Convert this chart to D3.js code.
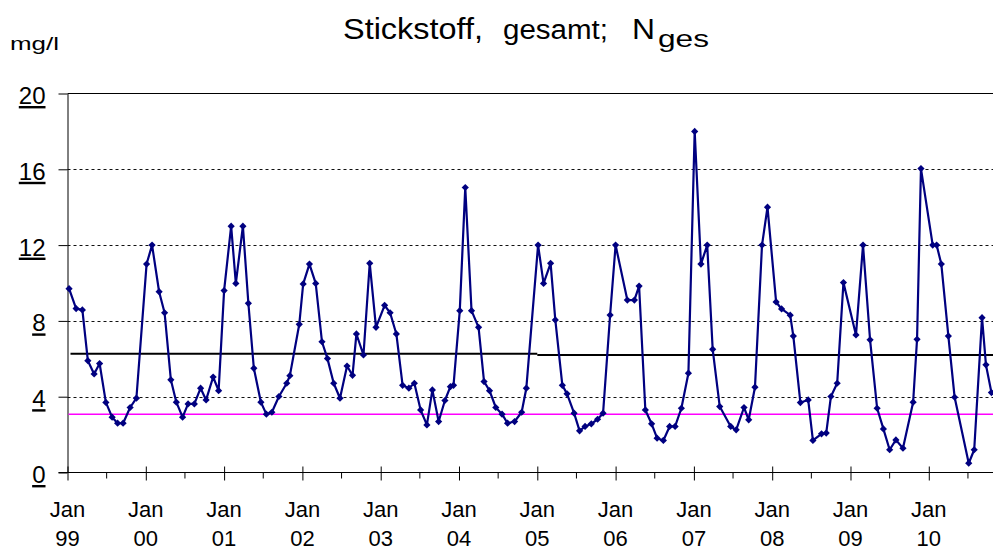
<!DOCTYPE html>
<html>
<head>
<meta charset="utf-8">
<script src="https://cdn.jsdelivr.net/npm/d3@7"></script>
<style>
    body { margin: 0; background: #fff; }
    svg { display: block; font-family: Arial, "Liberation Sans", sans-serif; }
</style>
</head>
<body>
<svg id="chart" width="993" height="552"></svg>
<script>
// Messzeitpunkte (als Dezimaljahr) und Messwerte N ges in mg/l
let zeitpunkte = [
    1999.02, 1999.11, 1999.19, 1999.26, 1999.34, 1999.41, 1999.49, 1999.57, 1999.64, 1999.71, 1999.80, 1999.88,
    2000.01, 2000.08, 2000.17, 2000.24, 2000.32, 2000.39, 2000.47, 2000.54, 2000.62, 2000.70, 2000.77, 2000.86, 2000.93,
    2001.00, 2001.09, 2001.15, 2001.24, 2001.31, 2001.38, 2001.47, 2001.54, 2001.61, 2001.70, 2001.80, 2001.84, 2001.96,
    2002.01, 2002.09, 2002.17, 2002.25, 2002.32, 2002.40, 2002.48, 2002.57, 2002.64, 2002.69, 2002.78, 2002.86, 2002.94,
    2003.05, 2003.12, 2003.20, 2003.28, 2003.36, 2003.43, 2003.51, 2003.59, 2003.66, 2003.74, 2003.82, 2003.89, 2003.93,
    2004.01, 2004.08, 2004.16, 2004.25, 2004.32, 2004.39, 2004.47, 2004.55, 2004.62, 2004.71, 2004.80, 2004.86,
    2005.01, 2005.08, 2005.17, 2005.23, 2005.32, 2005.38, 2005.47, 2005.54, 2005.61, 2005.69, 2005.77, 2005.84, 2005.93,
    2006.00, 2006.15, 2006.24, 2006.30, 2006.38, 2006.46, 2006.53, 2006.61, 2006.69, 2006.76, 2006.84, 2006.93,
    2007.01, 2007.09, 2007.17, 2007.24, 2007.33, 2007.47, 2007.54, 2007.64, 2007.70, 2007.78, 2007.87, 2007.94,
    2008.05, 2008.12, 2008.23, 2008.27, 2008.36, 2008.46, 2008.52, 2008.63, 2008.69, 2008.75, 2008.83, 2008.91,
    2009.07, 2009.16, 2009.25, 2009.34, 2009.42, 2009.50, 2009.58, 2009.67, 2009.80, 2009.85, 2009.90,
    2010.05, 2010.10, 2010.16, 2010.25, 2010.33, 2010.51, 2010.58, 2010.68, 2010.73, 2010.80
];
let nGes = [
    9.7, 8.65, 8.58, 5.9, 5.2, 5.75, 3.7, 2.92, 2.6, 2.6, 3.43, 3.92,
    11.0, 12.0, 9.54, 8.43, 4.89, 3.71, 2.92, 3.62, 3.62, 4.45, 3.83, 5.04, 4.32,
    9.6, 13.0, 9.98, 13.0, 8.93, 5.5, 3.71, 3.08, 3.18, 4.01, 4.71, 5.11, 7.82,
    9.95, 11.0, 9.98, 6.9, 6.01, 4.71, 3.92, 5.62, 5.13, 7.31, 6.2, 11.04, 7.66,
    8.82, 8.43, 7.31, 4.6, 4.45, 4.71, 3.3, 2.51, 4.36, 2.69, 3.8, 4.53, 4.6,
    8.54, 15.04, 8.54, 7.66, 4.8, 4.32, 3.43, 3.08, 2.6, 2.69, 3.18, 4.45,
    12.0, 9.98, 11.04, 8.05, 4.6, 4.15, 3.13, 2.2, 2.43, 2.57, 2.81, 3.13, 8.31,
    12.0, 9.1, 9.1, 9.84, 3.3, 2.57, 1.81, 1.69, 2.43, 2.43, 3.39, 5.24,
    18.0, 11.0, 12.0, 6.5, 3.48, 2.43, 2.25, 3.43, 2.78, 4.5, 12.0, 14.0,
    9.0, 8.63, 8.3, 7.2, 3.69, 3.83, 1.69, 2.04, 2.08, 4.01, 4.71, 10.02,
    7.26, 12.0, 7.0, 3.39, 2.3, 1.2, 1.72, 1.28, 3.71, 7.03, 16.04,
    12.0, 12.0, 11.0, 7.2, 3.97, 0.49, 1.2, 8.17, 5.68, 4.22
];

let jahre = [1999, 2000, 2001, 2002, 2003, 2004, 2005, 2006, 2007, 2008, 2009, 2010];
let jahrLabels = ["99", "00", "01", "02", "03", "04", "05", "06", "07", "08", "09", "10"];
let yTicks = [0, 4, 8, 12, 16, 20];
let gitterWerte = [4, 8, 12, 16];

// Mittelwert (schwarze Linie) in zwei Abschnitten, Zielwert (magenta)
let mittelVon = [1999, 2005.0];
let mittelBis = [2005.0, 2010.82];
let mittelWert = [6.27, 6.2];
let zielwert = 3.08;

let svg = d3.select("#chart");
let links = 67.5, rechts = 993, oben = 93.5, unten = 472.5;

let x = d3.scaleLinear().domain([1999, 2010.82]).range([links, rechts]);
let y = d3.scaleLinear().domain([0, 20]).range([unten, oben]);

// Titel (Schrift im Original leicht in die Breite gezogen)
let titel = svg.append("text").attr("y", 39).attr("fill", "black").attr("lengthAdjust", "spacingAndGlyphs");
titel.append("tspan").attr("x", 343).attr("font-size", "29px")
    .attr("textLength", 140).attr("lengthAdjust", "spacingAndGlyphs").text("Stickstoff,");
titel.append("tspan").attr("x", 503).attr("font-size", "27px")
    .attr("textLength", 105).attr("lengthAdjust", "spacingAndGlyphs").text("gesamt;");
titel.append("tspan").attr("x", 632).attr("font-size", "29px")
    .attr("textLength", 23).attr("lengthAdjust", "spacingAndGlyphs").text("N");
titel.append("tspan").attr("x", 658).attr("dy", 8).attr("font-size", "24px")
    .attr("textLength", 51).attr("lengthAdjust", "spacingAndGlyphs").text("ges");

svg.append("text")
    .attr("x", 10).attr("y", 50)
    .attr("font-size", "19px")
    .attr("textLength", 49)
    .attr("lengthAdjust", "spacingAndGlyphs")
    .text("mg/l");

// Gitterlinien
svg.selectAll(".gitter")
    .data(gitterWerte)
    .join("line")
    .attr("class", "gitter")
    .attr("x1", links).attr("x2", rechts)
    .attr("y1", d => Math.round(y(d)) + 0.5).attr("y2", d => Math.round(y(d)) + 0.5)
    .attr("stroke", "#111")
    .attr("stroke-width", 1)
    .attr("stroke-dasharray", "3,3");

// Rahmen oben
svg.append("line")
    .attr("x1", links).attr("x2", rechts)
    .attr("y1", oben).attr("y2", oben)
    .attr("stroke", "black").attr("stroke-width", 1);

// y-Achse
let yAchse = svg.append("g")
    .attr("transform", `translate(${links},0)`)
    .call(d3.axisLeft(y).tickValues(yTicks).tickSize(9).tickSizeOuter(0));
yAchse.select(".domain").attr("stroke", "black");
yAchse.selectAll(".tick line").attr("stroke", "black");
yAchse.selectAll("text")
    .attr("x", -22)
    .attr("dy", null)
    .attr("y", 10)
    .attr("font-size", "24px")
    .attr("font-family", null)
    .attr("fill", "black")
    .style("text-decoration", "underline");

// x-Achse
let xAchse = svg.append("g")
    .attr("transform", `translate(0,${unten})`)
    .call(d3.axisBottom(x).tickValues(jahre).tickSize(8).tickSizeOuter(0).tickFormat(""));
xAchse.select(".domain").attr("d", `M${links - 9},0H${rechts}`).attr("stroke", "black");
xAchse.selectAll(".tick line").attr("y1", -6).attr("y2", 8).attr("stroke", "black");

// Zwischenstriche (Juli)
xAchse.selectAll(".halb")
    .data(jahre)
    .join("line")
    .attr("class", "halb")
    .attr("x1", d => x(d + 0.5)).attr("x2", d => x(d + 0.5))
    .attr("y1", 0).attr("y2", 6)
    .attr("stroke", "black");

let xLabel = svg.selectAll(".xlabel")
    .data(jahre)
    .join("text")
    .attr("class", "xlabel")
    .attr("text-anchor", "middle")
    .attr("font-size", "22px")
    .attr("fill", "black");
xLabel.append("tspan").attr("x", d => x(d)).attr("y", 517).text("Jan");
xLabel.append("tspan").attr("x", d => x(d)).attr("y", 546).text((d, i) => jahrLabels[i]);

// Zielwert magenta
svg.append("line")
    .attr("x1", links + 1).attr("x2", rechts)
    .attr("y1", y(zielwert)).attr("y2", y(zielwert))
    .attr("stroke", "#ff00ff")
    .attr("stroke-width", 1.5);

// Mittelwert schwarz
svg.selectAll(".mittel")
    .data(mittelWert)
    .join("line")
    .attr("class", "mittel")
    .attr("x1", (d, i) => x(mittelVon[i]) + (i == 0 ? 3 : 0))
    .attr("x2", (d, i) => x(mittelBis[i]))
    .attr("y1", d => y(d)).attr("y2", d => y(d))
    .attr("stroke", "black")
    .attr("stroke-width", 2);

// Messreihe
let punkte = zeitpunkte.map((t, i) => ({ t: t, v: nGes[i] }));

svg.append("path")
    .datum(punkte)
    .attr("fill", "none")
    .attr("stroke", "#000080")
    .attr("stroke-width", 2.2)
    .attr("stroke-linejoin", "round")
    .attr("d", d3.line().x(d => x(d.t)).y(d => y(d.v)));

svg.selectAll(".punkt")
    .data(punkte)
    .join("path")
    .attr("class", "punkt")
    .attr("d", d3.symbol(d3.symbolSquare, 26))
    .attr("transform", d => `translate(${x(d.t)},${y(d.v)}) rotate(45)`)
    .attr("fill", "#000080");
</script>
</body>
</html>
